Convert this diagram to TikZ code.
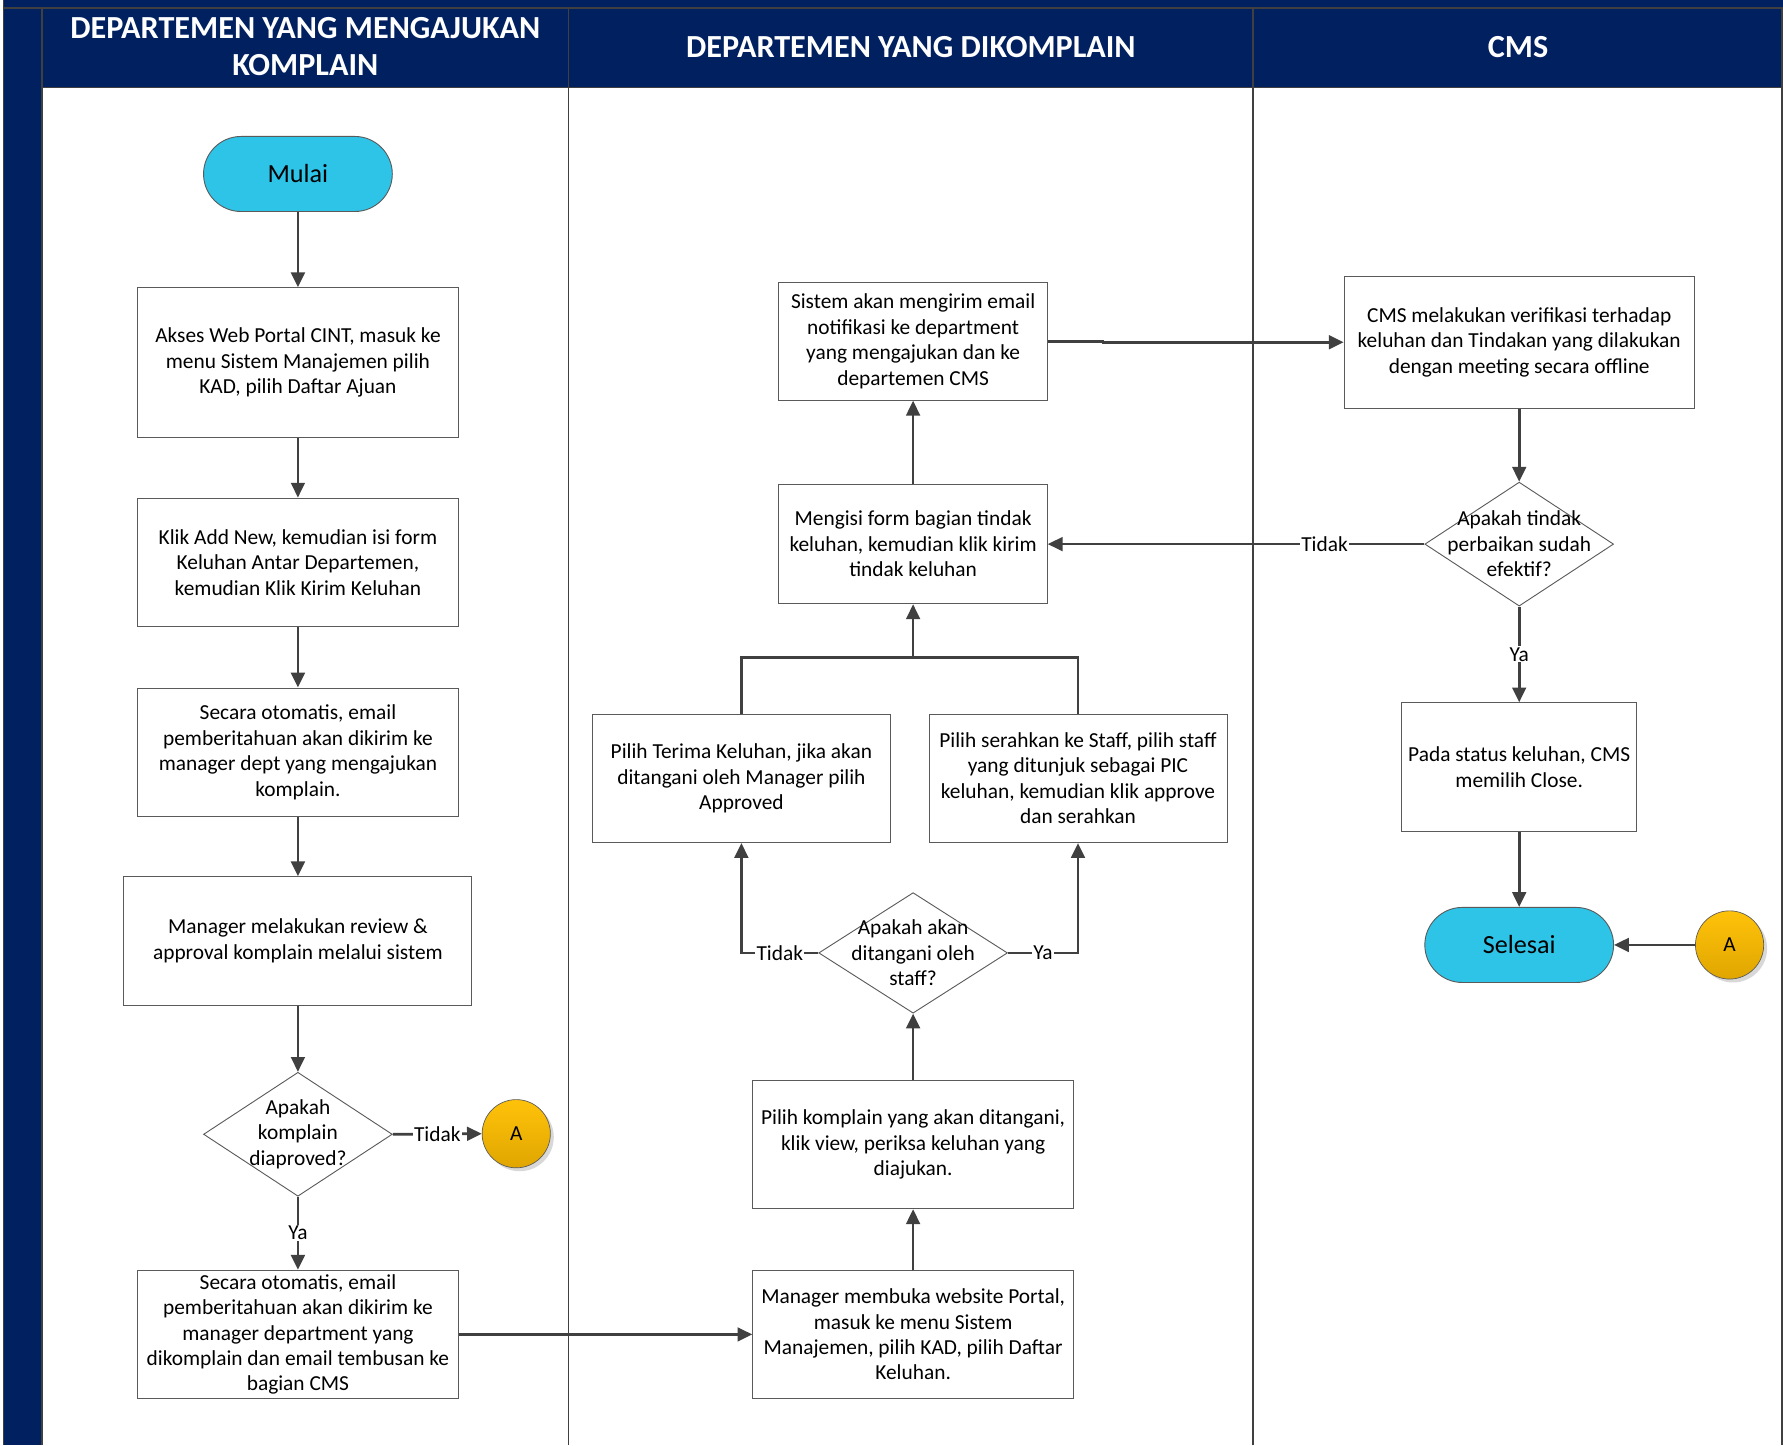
\documentclass[tikz,border=0pt]{standalone}
\usepackage{fontspec}
\setmainfont{Carlito}
\usetikzlibrary{arrows.meta,shapes.geometric,shadows}
\definecolor{navy}{RGB}{0,32,96}
\definecolor{frameg}{RGB}{64,64,64}
\definecolor{lineg}{RGB}{64,64,64}
\definecolor{boxg}{RGB}{90,90,90}
\definecolor{cyanf}{RGB}{46,196,232}
\definecolor{goldt}{RGB}{255,194,10}
\definecolor{goldb}{RGB}{224,166,0}
\newcommand\myBody{\fontsize{18.8}{22.4}\selectfont}
\newcommand\myHead{\fontsize{28.3}{33}\selectfont\bfseries}
\newcommand\myTerm{\fontsize{23}{26}\selectfont}
\tikzset{
  pbox/.style={draw=boxg, line width=0.8pt, fill=white, align=center, inner sep=0pt, font=\myBody},
  term/.style={draw=boxg, line width=0.8pt, fill=cyanf, rounded corners=33pt, minimum height=66, minimum width=166, font=\myTerm, inner sep=0pt},
  dec/.style={draw=boxg, line width=0.8pt, fill=white, diamond, inner sep=0pt, minimum width=166, minimum height=109},
  dtext/.style={align=center, font=\myBody, inner sep=0pt},
  conn/.style={circle, draw=boxg, line width=0.6pt, top color=goldt, bottom color=goldb, minimum size=60, inner sep=0pt, font=\myBody,
     drop shadow={opacity=0.25, shadow xshift=3pt, shadow yshift=-3pt, fill=black!60}},
  arr/.style={draw=lineg, line width=2.4pt, -{Triangle[length=13pt,width=12pt]}},
  ln/.style={draw=lineg, line width=2.4pt},
  lbl/.style={fill=white, inner sep=1pt, font=\myBody},
  hdr/.style={text=white, align=center, font=\myHead, inner sep=0pt},
}
\begin{document}
\begin{tikzpicture}[x=1pt,y=-1pt]
\useasboundingbox (0,0) rectangle (1568,1271);
% frame
\fill[white] (0,0) rectangle (1568,1271);
\fill[navy] (3,0) rectangle (1568,77);
\fill[navy] (3,0) rectangle (37,1271);
\draw[frameg, line width=1.2pt] (3,7) -- (1568,7);
\draw[frameg, line width=1.2pt] (3,0) -- (3,1271);
\draw[frameg, line width=1.2pt] (37,7) -- (37,1271);
\draw[frameg, line width=1.2pt] (37,77) -- (1568,77);
\draw[frameg, line width=1.2pt] (500,7) -- (500,1271);
\draw[frameg, line width=1.2pt] (1102,7) -- (1102,1271);
\draw[frameg, line width=1.2pt] (1567,7) -- (1567,1271);
% headers
\node[hdr] (h1) at (268.5,41) {DEPARTEMEN YANG MENGAJUKAN\\KOMPLAIN};
\node[hdr] (h2) at (801,41) {DEPARTEMEN YANG DIKOMPLAIN};
\node[hdr] (h3) at (1335,41) {CMS};

% lane 1
\node[term] (mulai) at (262,153) {Mulai};
\node[pbox, minimum width=282, minimum height=132] (b1) at (262,319) {Akses Web Portal CINT, masuk ke\\menu Sistem Manajemen pilih\\KAD, pilih Daftar Ajuan};
\node[pbox, minimum width=282, minimum height=113] (b2) at (262,494.5) {Klik Add New, kemudian isi form\\Keluhan Antar Departemen,\\kemudian Klik Kirim Keluhan};
\node[pbox, minimum width=282, minimum height=113] (b3) at (262,661.5) {Secara otomatis, email\\pemberitahuan akan dikirim ke\\manager dept yang mengajukan\\komplain.};
\node[pbox, minimum width=306, minimum height=113] (b4) at (262,827.5) {Manager melakukan review \&\\approval komplain melalui sistem};
\node[dec] (d1) at (262,997.5) {};
\node[dtext] (d1t) at (262,997.5) {Apakah\\komplain\\diaproved?};
\node[conn] (a1) at (454,997) {A};
\node[pbox, minimum width=282, minimum height=113] (b5) at (262,1173.5) {Secara otomatis, email\\pemberitahuan akan dikirim ke\\manager department yang\\dikomplain dan email tembusan ke\\bagian CMS};

% lane 2
\node[pbox, minimum width=282, minimum height=113] (m1) at (803,1173.5) {Manager membuka website Portal,\\masuk ke menu Sistem\\Manajemen, pilih KAD, pilih Daftar\\Keluhan.};
\node[pbox, minimum width=282, minimum height=113] (m2) at (803,1006.5) {Pilih komplain yang akan ditangani,\\klik view, periksa keluhan yang\\diajukan.};
\node[dec, minimum height=106] (d2) at (803,838) {};
\node[dtext] (d2t) at (803,838) {Apakah akan\\ditangani oleh\\staff?};
\node[pbox, minimum width=262, minimum height=113] (bl) at (652,684.5) {Pilih Terima Keluhan, jika akan\\ditangani oleh Manager pilih\\Approved};
\node[pbox, minimum width=262, minimum height=113] (br) at (948,684.5) {Pilih serahkan ke Staff, pilih staff\\yang ditunjuk sebagai PIC\\keluhan, kemudian klik approve\\dan serahkan};
\node[pbox, minimum width=236, minimum height=105] (m3) at (803,478.5) {Mengisi form bagian tindak\\keluhan, kemudian klik kirim\\tindak keluhan};
\node[pbox, minimum width=236, minimum height=104] (m4) at (803,300) {Sistem akan mengirim email\\notifikasi ke department\\yang mengajukan dan ke\\departemen CMS};
\coordinate (mg) at (803,578);

% lane 3
\node[pbox, minimum width=308, minimum height=116] (c1) at (1336,301) {CMS melakukan verifikasi terhadap\\keluhan dan Tindakan yang dilakukan\\dengan meeting secara offline};
\node[dec] (d3) at (1336,478.5) {};
\node[dtext] (d3t) at (1336,478.5) {Apakah tindak\\perbaikan sudah\\efektif?};
\node[pbox, minimum width=207, minimum height=113] (c2) at (1336,674.5) {Pada status keluhan, CMS\\memilih Close.};
\node[term] (selesai) at (1336,831) {Selesai};
\node[conn] (a2) at (1521,831) {A};

% connectors lane 1
\draw[arr] (mulai) -- (b1);
\draw[arr] (b1) -- (b2);
\draw[arr] (b2) -- (b3);
\draw[arr] (b3) -- (b4);
\draw[arr] (b4) -- (d1.north);
\draw[arr] (d1.east) -- node[lbl]{Tidak} (a1.west);
\draw[arr] (d1.south) -- node[lbl]{Ya} (b5.north);
\draw[arr] (b5.east) -- (m1.west);
% lane 2
\draw[arr] (m1) -- (m2);
\draw[arr] (m2.north) -- (d2.south);
\draw[arr] (d2.west) -- node[lbl]{Tidak} (d2.west -| bl.south) -- (bl.south);
\draw[arr] (d2.east) -- node[lbl]{Ya} (d2.east -| br.south) -- (br.south);
\draw[ln] (bl.north) |- (mg) -| (br.north);
\draw[arr] (mg) -- (m3.south);
\draw[arr] (m3) -- (m4);
\draw[arr] (m4.east) -- (970,300) -- (970,301) -- (c1.west);
% lane 3
\draw[arr] (c1.south) -- (d3.north);
\draw[arr] (d3.west) -- node[lbl, pos=0.265]{Tidak} (m3.east);
\draw[arr] (d3.south) -- node[lbl]{Ya} (c2.north);
\draw[arr] (c2) -- (selesai);
\draw[arr] (a2.west) -- (selesai.east);
\end{tikzpicture}
\end{document}
